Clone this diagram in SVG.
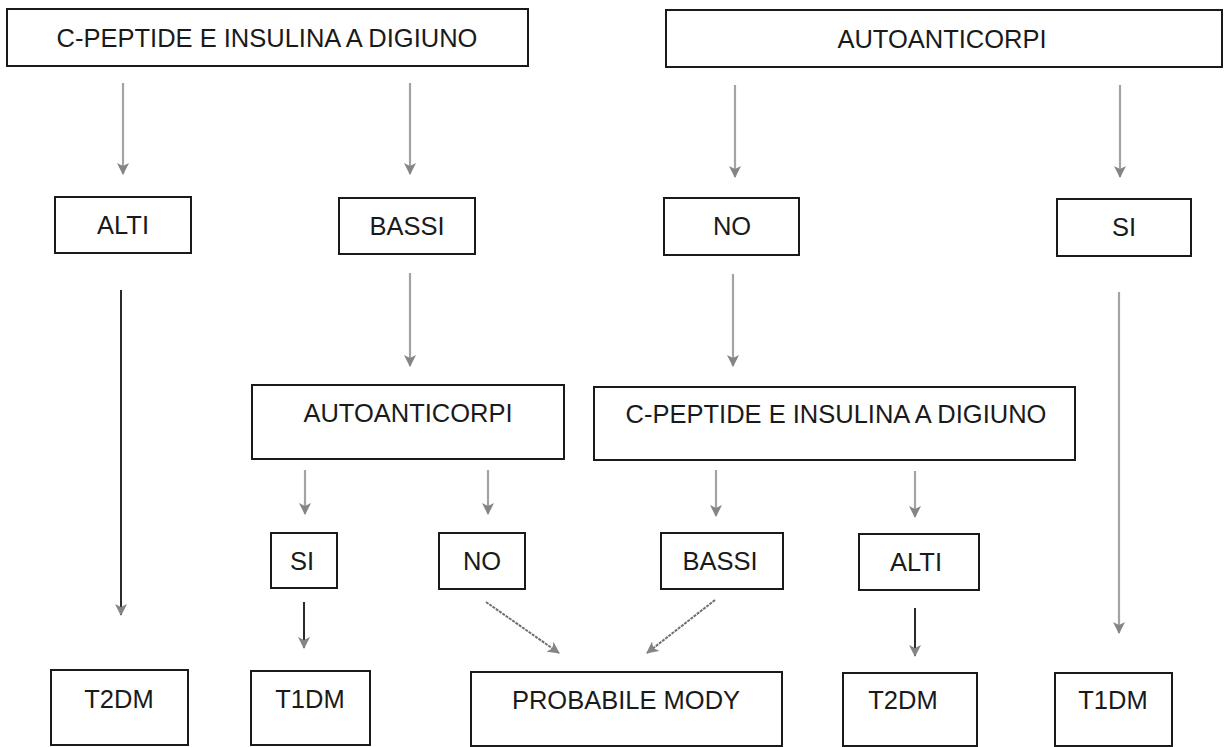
<svg xmlns="http://www.w3.org/2000/svg" width="1226" height="747" viewBox="0 0 1226 747">
<defs>
<style>
.box{fill:#fff;stroke:#1a1a1a;stroke-width:2}
.t{font-family:"Liberation Sans",Arial,sans-serif;font-size:25.5px;fill:#1a1a1a;text-anchor:middle}
.g{stroke:#a3a3a3;stroke-width:2.2;fill:none}
.d{stroke:#2a2a2a;stroke-width:2;fill:none}
.m{stroke:#6f6f6f;stroke-width:2;fill:none;stroke-dasharray:3 1}
</style>
<marker id="ah" viewBox="0 0 12 12" refX="11" refY="6" markerWidth="12" markerHeight="12" markerUnits="userSpaceOnUse" orient="auto">
<path d="M0,0 L12,6 L0,12 L3,6 z" fill="#858585"/>
</marker>
</defs>
<rect width="1226" height="747" fill="#fff"/>
<g id="connectors">
<line class="g" x1="123" y1="83" x2="123" y2="174" marker-end="url(#ah)"/>
<line class="g" x1="410" y1="83" x2="410" y2="174" marker-end="url(#ah)"/>
<line class="g" x1="735" y1="85" x2="735" y2="177" marker-end="url(#ah)"/>
<line class="g" x1="1120" y1="85" x2="1120" y2="177" marker-end="url(#ah)"/>
<line class="d" x1="121" y1="290" x2="121" y2="615" marker-end="url(#ah)"/>
<line class="g" x1="410" y1="273" x2="410" y2="366" marker-end="url(#ah)"/>
<line class="g" x1="733" y1="274" x2="733" y2="366" marker-end="url(#ah)"/>
<line class="g" x1="1119" y1="292" x2="1119" y2="633" marker-end="url(#ah)"/>
<line class="g" x1="305" y1="470" x2="305" y2="514" marker-end="url(#ah)"/>
<line class="g" x1="488" y1="470" x2="488" y2="514" marker-end="url(#ah)"/>
<line class="g" x1="716" y1="470" x2="716" y2="516" marker-end="url(#ah)"/>
<line class="g" x1="915" y1="471" x2="915" y2="517" marker-end="url(#ah)"/>
<line class="d" x1="304" y1="602" x2="304" y2="648" marker-end="url(#ah)"/>
<line class="m" x1="486" y1="602" x2="559" y2="653" marker-end="url(#ah)"/>
<line class="m" x1="715" y1="600" x2="647" y2="653" marker-end="url(#ah)"/>
<line class="d" x1="915" y1="608" x2="915" y2="656" marker-end="url(#ah)"/>
</g>
<g id="cpeptide-top"><rect class="box" x="7" y="9" width="521" height="57"/><text class="t" x="267" y="47">C-PEPTIDE E INSULINA A DIGIUNO</text></g>
<g id="autoanticorpi-top"><rect class="box" x="666" y="10" width="556" height="57"/><text class="t" x="942" y="48">AUTOANTICORPI</text></g>
<g id="alti-1"><rect class="box" x="55" y="197" width="136" height="56"/><text class="t" x="123" y="234">ALTI</text></g>
<g id="bassi-1"><rect class="box" x="339" y="198" width="136" height="56"/><text class="t" x="407" y="235">BASSI</text></g>
<g id="no-1"><rect class="box" x="664" y="198" width="135" height="57"/><text class="t" x="732" y="235">NO</text></g>
<g id="si-1"><rect class="box" x="1057" y="199" width="134" height="57"/><text class="t" x="1124" y="236">SI</text></g>
<g id="autoanticorpi-2"><rect class="box" x="252" y="385" width="312" height="74"/><text class="t" x="408" y="422">AUTOANTICORPI</text></g>
<g id="cpeptide-2"><rect class="box" x="594" y="387" width="481" height="73"/><text class="t" x="836" y="423">C-PEPTIDE E INSULINA A DIGIUNO</text></g>
<g id="si-2"><rect class="box" x="271" y="533" width="66" height="55"/><text class="t" x="302" y="570">SI</text></g>
<g id="no-2"><rect class="box" x="439" y="533" width="86" height="56"/><text class="t" x="482" y="570">NO</text></g>
<g id="bassi-2"><rect class="box" x="661" y="533" width="122" height="56"/><text class="t" x="720" y="570">BASSI</text></g>
<g id="alti-2"><rect class="box" x="859" y="534" width="120" height="56"/><text class="t" x="916" y="571">ALTI</text></g>
<g id="t2dm-1"><rect class="box" x="51" y="670" width="137" height="75"/><text class="t" x="119" y="708">T2DM</text></g>
<g id="t1dm-1"><rect class="box" x="251" y="671" width="119" height="74"/><text class="t" x="310" y="708">T1DM</text></g>
<g id="probabile-mody"><rect class="box" x="471" y="672" width="311" height="74"/><text class="t" x="626" y="709">PROBABILE MODY</text></g>
<g id="t2dm-2"><rect class="box" x="843" y="673" width="134" height="73"/><text class="t" x="903" y="709">T2DM</text></g>
<g id="t1dm-2"><rect class="box" x="1055" y="673" width="117" height="73"/><text class="t" x="1113" y="709">T1DM</text></g>
</svg>
